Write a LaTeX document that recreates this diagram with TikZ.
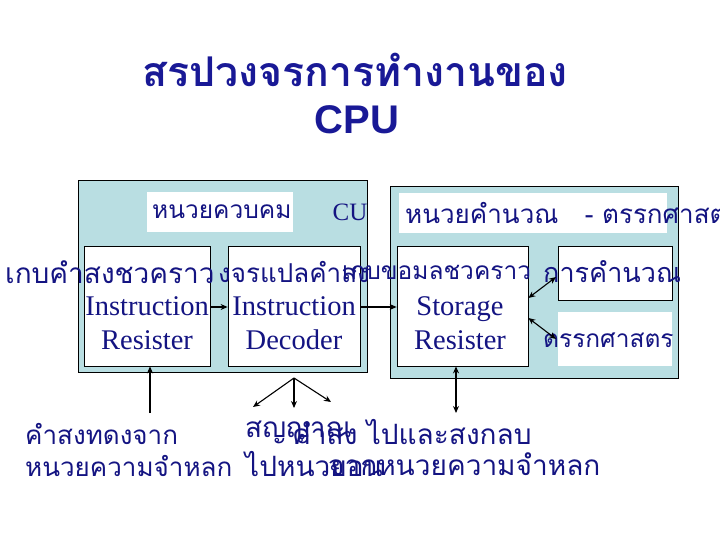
\documentclass[tikz,border=0pt]{standalone}
\usepackage{fontspec}
\setmainfont{Liberation Serif}
\newfontfamily\thai[Script=Thai]{Loma}
\newfontfamily\arial{Liberation Sans}
\usetikzlibrary{arrows.meta}
\definecolor{navy}{RGB}{20,20,130}
\definecolor{ttl}{RGB}{25,25,150}
\definecolor{boxfill}{RGB}{185,222,226}
\tikzset{
  unit/.style={draw=black, fill=boxfill, line width=0.8pt, inner sep=0pt},
  inbox/.style={draw=black, fill=white, line width=0.8pt, inner sep=0pt},
  plainwhite/.style={fill=white, inner sep=0pt},
  th/.style={font=\thai\fontsize{#1}{28}\selectfont, text=navy, inner sep=0pt, anchor=west},
  th/.default=26,
  en/.style={font=\fontsize{28.5}{34}\selectfont, text=navy, inner sep=0pt, align=center},
  arr/.style={-{Stealth[length=7pt,width=6pt]}, line width=1.1pt},
  darr/.style={{Stealth[length=7pt,width=6pt]}-{Stealth[length=7pt,width=6pt]}, line width=1.1pt},
}
\begin{document}
\begin{tikzpicture}[x=1pt,y=-1pt]
\useasboundingbox (0,0) rectangle (720,540);
% title
\node[font=\thai\bfseries\fontsize{41}{44}\selectfont, text=ttl, inner sep=0pt] (t1) at (355,70) {สรปวงจรการทำงานของ};
\node[font=\arial\bfseries\fontsize{40}{42}\selectfont, text=ttl, inner sep=0pt] (t2) at (357,120) {CPU};
% big units
\node[unit, minimum width=289, minimum height=192] (cu) at (222.5,276) {};
\node[unit, minimum width=288, minimum height=192] (alu) at (534,282) {};
% labels
\node[plainwhite, minimum width=146, minimum height=40] (cul) at (220,212) {};
\node[th=24.5] (cut) at (152,212) {หนวยควบคม};
\node[font=\fontsize{25}{28}\selectfont, text=navy, inner sep=0pt] (cux) at (350,212) {CU};
\node[plainwhite, minimum width=268, minimum height=40] (alul) at (533,213) {};
\node[th] (alut) at (405,213) {หนวยคำนวณ\ \ \ - ตรรกศาสตร};
% inner boxes
\node[inbox, minimum width=126, minimum height=120] (ir) at (147,306) {};
\node[inbox, minimum width=132, minimum height=120] (id) at (294,306) {};
\node[inbox, minimum width=131, minimum height=120] (sr) at (462.5,306) {};
\node[inbox, minimum width=114, minimum height=54] (calc) at (615,273) {};
\node[plainwhite, minimum width=114, minimum height=54] (logic) at (615,339) {};
% english text
\node[en] (irt) at (147,323) {Instruction\\Resister};
\node[en] (idt) at (294,323) {Instruction\\Decoder};
\node[en] (srt) at (460,323) {Storage\\Resister};
% thai row
\node[th=28] (r1) at (5,272) {เกบคำสงชวคราว};
\node[th] (r2) at (218,272) {งจรแปลคำสง};
\node[th=24.5] (r3) at (342,272) {เกบขอมลชวคราว};
\node[th=27] (r4) at (543,272) {การคำนวณ};
\node[th=24.5] (r5) at (543,340) {ตรรกศาสตร};
% arrows
\draw[arr] (ir.east |- 0,307) -- (id.west |- 0,307);
\draw[arr] (id.east |- 0,307) -- (sr.west |- 0,307);
\coordinate (c1) at (sr.east |- 0,298);
\coordinate (c2) at (556,277);
\coordinate (c3) at (sr.east |- 0,318);
\coordinate (c4) at (556,339);
\draw[darr] (c1) -- (c2);
\draw[darr] (c3) -- (c4);
% bottom
\node[th] (b1) at (25,434) {คำสงทดงจาก};
\node[th] (b2) at (25,466) {หนวยความจำหลก};
\node[th=28] (b3) at (245,432) {สญญาณ};
\node[th=28] (b4) at (292,432) {คำสง ไปและสงกลบ};
\node[th=28] (b5) at (245,464) {ไปหนวยอน};
\node[th=28] (b6) at (328,464) {จากหนวยความจำหลก};
\coordinate (v1) at (150,413);
\draw[arr] (v1) -- (ir.south -| v1);
\coordinate (apex) at (294,378);
\coordinate (e1) at (253,407);
\coordinate (e2) at (294,408);
\coordinate (e3) at (331,402);
\draw[arr] (apex) -- (e1);
\draw[arr] (apex) -- (e2);
\draw[arr] (apex) -- (e3);
\coordinate (v2) at (456,413);
\draw[darr] (sr.south -| v2) -- (v2);
\end{tikzpicture}
\end{document}
